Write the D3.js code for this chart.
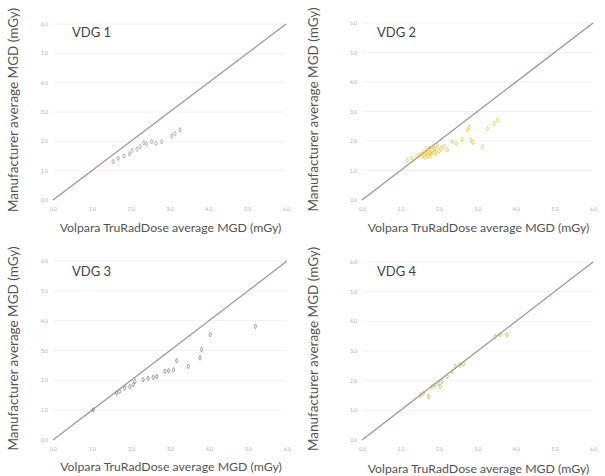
<!DOCTYPE html>
<html><head><meta charset="utf-8">
<script src="https://cdn.jsdelivr.net/npm/d3@7"></script>
<style>body{margin:0;background:#fff}svg{display:block}</style>
</head><body>
<svg id="c" width="605" height="476"></svg>
<script>
const panelNames = ["VDG 1", "VDG 2", "VDG 3", "VDG 4"];
const tickValues = [0, 1, 2, 3, 4, 5, 6];
const xTitle = "Volpara TruRadDose average MGD (mGy)";
const yTitle = "Manufacturer average MGD (mGy)";

const vdg1X = [1.55,1.68,1.83,1.97,2.03,2.16,2.24,2.34,2.41,2.54,2.65,2.80,3.06,3.14,3.27];
const vdg1Y = [1.31,1.42,1.50,1.57,1.68,1.73,1.82,1.95,1.91,1.99,1.93,1.99,2.18,2.27,2.39];

const vdg2X = [1.17,1.30,1.45,1.52,1.58,1.60,1.63,1.66,1.68,1.70,1.72,1.74,1.75,1.78,1.80,1.82,1.85,1.88,1.90,1.93,1.96,2.00,2.05,2.13,2.22,2.35,2.45,2.60,2.74,2.78,2.83,2.88,3.13,3.26,3.43,3.52];
const vdg2Y = [1.35,1.42,1.48,1.55,1.50,1.62,1.45,1.58,1.70,1.52,1.65,1.48,1.75,1.60,1.55,1.68,1.80,1.62,1.72,1.58,1.85,1.66,1.75,1.80,1.70,1.97,1.90,2.05,2.37,2.48,2.03,1.95,1.80,2.42,2.59,2.70];

const vdg3X = [1.03,1.63,1.71,1.84,1.97,2.06,2.10,2.31,2.44,2.57,2.66,2.87,2.96,3.09,3.17,3.47,3.77,3.81,4.03,5.19];
const vdg3Y = [1.01,1.57,1.63,1.74,1.79,1.85,1.96,2.02,2.07,2.10,2.13,2.30,2.32,2.35,2.66,2.47,2.75,3.03,3.53,3.81];

const vdg4X = [1.52,1.60,1.73,1.82,1.90,1.99,2.03,2.08,2.21,2.34,2.42,2.55,2.64,3.46,3.59,3.77];
const vdg4Y = [1.52,1.58,1.46,1.80,1.86,1.91,1.80,1.97,2.14,2.31,2.48,2.53,2.56,3.49,3.55,3.55];

const seriesX = [vdg1X, vdg2X, vdg3X, vdg4X];
const seriesY = [vdg1Y, vdg2Y, vdg3Y, vdg4Y];
const colors = ["#9a9a9a", "#eac230", "#7a7a7a", "#aab850"];

// layout (positions only)
const panels = [
  {ox:0,   oy:0,   l:53, r:286, t:24, b:200, tx:72, ty:37, xt:232},
  {ox:300, oy:0,   l:62, r:293, t:23, b:200, tx:77, ty:37, xt:232},
  {ox:0,   oy:238, l:53, r:287, t:23, b:202, tx:72, ty:38, xt:233},
  {ox:300, oy:238, l:62, r:293, t:24, b:202, tx:77, ty:38, xt:235}
];

const svg = d3.select("#c");
const font = "Lato, 'Open Sans', sans-serif";

panels.forEach((p, i) => {
  const g = svg.append("g").attr("transform", `translate(${p.ox},${p.oy})`);
  const x = d3.scaleLinear().domain([0, 6]).range([p.l, p.r]);
  const y = d3.scaleLinear().domain([0, 6]).range([p.b, p.t]);

  // gridlines
  g.append("g").selectAll("line").data(tickValues.slice(1)).join("line")
    .attr("x1", p.l).attr("x2", p.r)
    .attr("y1", d => y(d)).attr("y2", d => y(d))
    .attr("stroke", "#f2f2f2").attr("stroke-width", 1);

  // axes
  const xa = g.append("g").attr("transform", `translate(0,${p.b})`)
    .call(d3.axisBottom(x).tickValues(tickValues).tickFormat(d3.format(".1f")).tickSize(0).tickPadding(7));
  const ya = g.append("g").attr("transform", `translate(${p.l},0)`)
    .call(d3.axisLeft(y).tickValues(tickValues).tickFormat(d3.format(".1f")).tickSize(0).tickPadding(5));
  [xa, ya].forEach(a => {
    a.select(".domain").remove();
    a.selectAll("text").attr("fill", "#b0b0b0").style("font-size", "5px").style("font-family", font);
  });

  // identity line
  g.append("line")
    .attr("x1", x(0)).attr("y1", y(0)).attr("x2", x(6)).attr("y2", y(6))
    .attr("stroke", "#a89090").attr("stroke-width", 1.2);

  // points
  const pts = seriesX[i].map((v, k) => [v, seriesY[i][k]]);
  g.append("g").selectAll("path").data(pts).join("path")
    .attr("transform", d => `translate(${x(d[0])},${y(d[1])})`)
    .attr("d", d3.symbol().type(d3.symbolDiamond).size(6))
    .attr("fill", "none").attr("stroke", colors[i]).attr("stroke-width", 0.7);

  // panel label
  g.append("text").attr("x", p.tx).attr("y", p.ty).text(panelNames[i])
    .attr("fill", "#444").style("font-size", "13px").style("font-family", font);

  // axis titles
  g.append("text").attr("x", (p.l + p.r) / 2 + 1).attr("y", p.xt)
    .attr("text-anchor", "middle").text(xTitle)
    .attr("fill", "#555").style("font-size", "12.3px").style("font-family", font);
  g.append("text").attr("transform", `translate(18,${(p.t + p.b) / 2 - 2}) rotate(-90)`)
    .attr("text-anchor", "middle").text(yTitle)
    .attr("fill", "#555").style("font-size", "13.5px").style("font-family", font);
});
</script>
</body></html>
